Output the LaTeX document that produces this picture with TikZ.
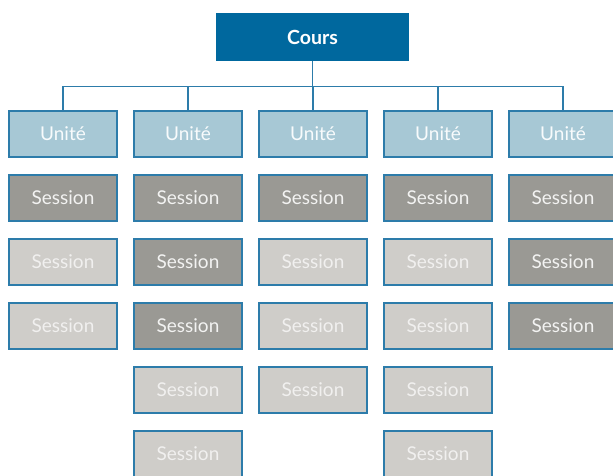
\documentclass[tikz,border=0pt]{standalone}
\usepackage{fontspec}
\setmainfont{Lato}
\definecolor{coursblue}{HTML}{00689E}
\definecolor{unitblue}{HTML}{A7C8D5}
\definecolor{edgeblue}{HTML}{2D7CAA}
\definecolor{sessdark}{HTML}{9A9994}
\definecolor{sesslight}{HTML}{CFCDC9}
\usetikzlibrary{positioning}

\begin{document}
\begin{tikzpicture}[x=1pt, y=-1pt,
    box/.style={minimum width=108pt, minimum height=46pt, inner sep=0pt,
      draw=edgeblue, line width=1.3pt, font=\fontsize{19}{22}\selectfont},
    unit/.style={box, fill=unitblue, text=white!92!unitblue},
    sessd/.style={box, fill=sessdark, text=white!88!sessdark},
    sessl/.style={box, fill=sesslight, text=white!70!sesslight},
    link/.style={draw=edgeblue, line width=1.1pt}]
  \useasboundingbox (0,0) rectangle (613,475);
  \clip (0,0) rectangle (613,475);
  % top box
  \node[fill=coursblue, text=white, minimum width=193pt, minimum height=48pt,
    inner sep=0pt, font=\fontsize{19.5}{22}\selectfont\bfseries]
    (cours) at (312.5,37) {Cours};
  % one column per unit: d = dark session, l = light session
  \foreach \c/\list in {1/{d,l,l}, 2/{d,d,d,l,l}, 3/{d,l,l,l},
      4/{d,l,l,l,l}, 5/{d,d,d}} {
    \node[unit] (u\c) at (63+125*\c-125, 134) {Unité};
    \draw[link] (cours.south) -- ++(0,25) -| (u\c.north);
    \foreach \t [count=\r] in \list
      \node[sess\t] (s\c-\r) at (63+125*\c-125, 134+64*\r) {Session};
  }
\end{tikzpicture}
\end{document}
